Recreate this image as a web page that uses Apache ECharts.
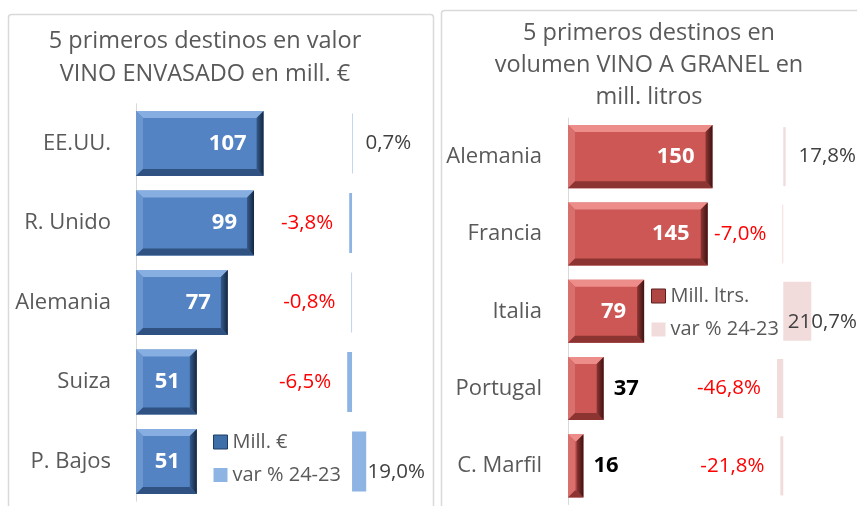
<!DOCTYPE html>
<html>
<head>
<meta charset="utf-8">
<script src="https://cdn.jsdelivr.net/npm/echarts@6/dist/echarts.min.js"></script>
<style>
  html, body { margin: 0; padding: 0; background: #fff; }
  #main { width: 857px; height: 506px; }
</style>
</head>
<body>
<div id="main"></div>
<script>
// datos: valor envasado (izq) y volumen granel (dcha)
var leftCats = ['EE.UU.', 'R. Unido', 'Alemania', 'Suiza', 'P. Bajos'];
var leftValues = [107, 99, 77, 51, 51];
var leftVar = [0.7, -3.8, -0.8, -6.5, 19.0];

var rightCats = ['Alemania', 'Francia', 'Italia', 'Portugal', 'C. Marfil'];
var rightValues = [150, 145, 79, 37, 16];
var rightVar = [17.8, -7.0, 210.7, -46.8, -21.8];

var FONT = 'Open Sans';
var GRAY = '#595959';

var blueBevel = { face: '#5383c3', top: '#86aee0', left: '#6b96cf', bottom: '#2f5282', right: ['#355b8e', '#14263d'] };
var redBevel = { face: '#cd5755', top: '#ec8d8a', left: '#d8706d', bottom: '#8c3432', right: ['#8e3634', '#3d1312'] };

function pct(v) {
  return v.toFixed(1).replace('.', ',') + '%';
}

// barras con bisel (estilo Excel) dibujadas sobre las escalas del eje
function bevelRender(col, gap) {
  return function (params, api) {
    var v = api.value(0), c = api.value(1);
    var s = api.coord([0, c]), e = api.coord([v, c]);
    var h = api.size([0, 1])[1] * (1 - gap);
    var x0 = s[0], x1 = e[0], y0 = e[1] - h / 2, y1 = e[1] + h / 2;
    var b = Math.min(7, (x1 - x0) / 2);
    return {
      type: 'group',
      children: [
        { type: 'rect', shape: { x: x0, y: y0, width: x1 - x0, height: h }, style: { fill: col.face } },
        { type: 'polygon', shape: { points: [[x0, y0], [x1, y0], [x1 - b, y0 + b], [x0 + b, y0 + b]] }, style: { fill: col.top } },
        { type: 'polygon', shape: { points: [[x0, y0], [x0 + b, y0 + b], [x0 + b, y1 - b], [x0, y1]] }, style: { fill: col.left } },
        { type: 'polygon', shape: { points: [[x0, y1], [x0 + b, y1 - b], [x1 - b, y1 - b], [x1, y1]] }, style: { fill: col.bottom } },
        {
          type: 'polygon', shape: { points: [[x1, y0], [x1, y1], [x1 - b, y1 - b], [x1 - b, y0 + b]] },
          style: { fill: new echarts.graphic.LinearGradient(0, 0, 1, 0, [{ offset: 0, color: col.right[0] }, { offset: 1, color: col.right[1] }]) }
        }
      ]
    };
  };
}

// etiqueta dentro si cabe, fuera en negro si no
function mainData(values, pxPerUnit) {
  return values.map(function (v) {
    if (v * pxPerUnit < 55) {
      return { value: v, label: { position: 'right', distance: 10, color: '#000' } };
    }
    return v;
  });
}

function varData(values) {
  return values.map(function (v) {
    return {
      value: v,
      label: v < 0
        ? { position: 'left', distance: 16, color: '#ff0000' }
        : { position: 'right', distance: 13, color: '#404040' }
    };
  });
}

function clampRight(limit) {
  return function (params) {
    var r = params.labelRect;
    if (r.x + r.width > limit) {
      return { x: limit - r.width };
    }
  };
}

function pairs(values) {
  return values.map(function (v, i) { return [v, i]; });
}

var myChart = echarts.init(document.getElementById('main'));

var option = {
  animation: false,
  textStyle: { fontFamily: FONT },
  title: [
    {
      text: '5 primeros destinos en valor\nVINO ENVASADO en mill. €',
      left: 205, top: 25, padding: 0, textAlign: 'center',
      textStyle: { fontSize: 23.5, fontWeight: 'normal', color: GRAY, lineHeight: 33, fontFamily: FONT }
    },
    {
      text: '5 primeros destinos en\nvolumen VINO A GRANEL en\nmill. litros',
      left: 649, top: 17, padding: 0, textAlign: 'center',
      textStyle: { fontSize: 23.5, fontWeight: 'normal', color: GRAY, lineHeight: 32, fontFamily: FONT }
    }
  ],
  legend: [
    {
      orient: 'vertical', left: 213, top: 431, padding: 0,
      itemWidth: 14, itemHeight: 14, itemGap: 11, icon: 'rect',
      textStyle: { fontSize: 20, color: GRAY, lineHeight: 22, fontFamily: FONT },
      data: [
        { name: 'Mill. €', itemStyle: { color: '#3f6fa8', borderColor: '#1f3d63', borderWidth: 1 } },
        { name: 'var % 24-23', itemStyle: { color: '#8db4e2', borderWidth: 0 } }
      ]
    },
    {
      orient: 'vertical', left: 651, top: 285, padding: 0,
      itemWidth: 14, itemHeight: 14, itemGap: 11.5, icon: 'rect',
      textStyle: { fontSize: 20, color: GRAY, lineHeight: 22, fontFamily: FONT },
      data: [
        { name: 'Mill. ltrs.', itemStyle: { color: '#b04643', borderColor: '#5a1f1e', borderWidth: 1 } },
        { name: 'var % 24-23', itemStyle: { color: '#f2dcdb', borderWidth: 0 } }
      ]
    }
  ],
  grid: [
    { left: 136, top: 103.75, width: 298, height: 397.5 },
    { left: 568, top: 118, width: 289, height: 386.5 }
  ],
  xAxis: [
    { gridIndex: 0, type: 'value', min: 0, max: 250, show: false },
    { gridIndex: 0, type: 'value', min: -290, max: 110, show: false },
    { gridIndex: 1, type: 'value', min: 0, max: 300, show: false },
    { gridIndex: 1, type: 'value', min: -1620, max: 555, show: false }
  ],
  yAxis: [
    {
      gridIndex: 0, type: 'category', data: leftCats, inverse: true,
      axisLine: { show: true, lineStyle: { color: '#d9d9d9' } },
      axisTick: { show: false },
      axisLabel: { fontSize: 22, color: GRAY, margin: 25, fontFamily: FONT }
    },
    { gridIndex: 0, type: 'category', data: leftCats, inverse: true, show: false },
    {
      gridIndex: 1, type: 'category', data: rightCats, inverse: true,
      axisLine: { show: true, lineStyle: { color: '#d9d9d9' } },
      axisTick: { show: false },
      axisLabel: { fontSize: 22, color: GRAY, margin: 26, fontFamily: FONT }
    },
    { gridIndex: 1, type: 'category', data: rightCats, inverse: true, show: false }
  ],
  series: [
    {
      type: 'custom', xAxisIndex: 0, yAxisIndex: 0, z: 2,
      renderItem: bevelRender(blueBevel, 0.18), data: pairs(leftValues), silent: true
    },
    {
      name: 'Mill. €', type: 'bar', xAxisIndex: 0, yAxisIndex: 0,
      data: mainData(leftValues, 298 / 250),
      barCategoryGap: '18%',
      itemStyle: { color: 'rgba(0,0,0,0)' },
      label: { show: true, position: 'insideRight', distance: 17, color: '#fff', fontWeight: 'bold', fontSize: 22, fontFamily: FONT },
      z: 3
    },
    {
      name: 'var % 24-23', type: 'bar', xAxisIndex: 1, yAxisIndex: 1,
      data: varData(leftVar),
      barCategoryGap: '24.5%',
      itemStyle: { color: '#8db4e2' },
      label: { show: true, fontSize: 20.5, fontFamily: FONT, formatter: function (p) { return pct(p.value); } },
      labelLayout: clampRight(425)
    },
    {
      type: 'custom', xAxisIndex: 2, yAxisIndex: 2, z: 2,
      renderItem: bevelRender(redBevel, 0.184), data: pairs(rightValues), silent: true
    },
    {
      name: 'Mill. ltrs.', type: 'bar', xAxisIndex: 2, yAxisIndex: 2,
      data: mainData(rightValues, 289 / 300),
      barCategoryGap: '18.4%',
      itemStyle: { color: 'rgba(0,0,0,0)' },
      label: { show: true, position: 'insideRight', distance: 18, color: '#fff', fontWeight: 'bold', fontSize: 22, fontFamily: FONT },
      z: 3
    },
    {
      name: 'var % 24-23', type: 'bar', xAxisIndex: 3, yAxisIndex: 3,
      data: varData(rightVar),
      barCategoryGap: '23.6%',
      itemStyle: { color: '#f2dcdb' },
      label: { show: true, fontSize: 20.5, fontFamily: FONT, formatter: function (p) { return pct(p.value); } },
      labelLayout: clampRight(857)
    }
  ],
  graphic: [
    {
      type: 'rect', silent: true, z: -1,
      shape: { x: 8.5, y: 14.5, width: 425, height: 520, r: 3 },
      style: { fill: 'none', stroke: '#d9d9d9', lineWidth: 1.5 }
    },
    {
      type: 'rect', silent: true, z: -1,
      shape: { x: 441.5, y: 10.5, width: 430, height: 520, r: 3 },
      style: { fill: 'none', stroke: '#d9d9d9', lineWidth: 1.5 }
    }
  ]
};

myChart.setOption(option);

window.onresize = function () {
  myChart.resize();
};
</script>
</body>
</html>
